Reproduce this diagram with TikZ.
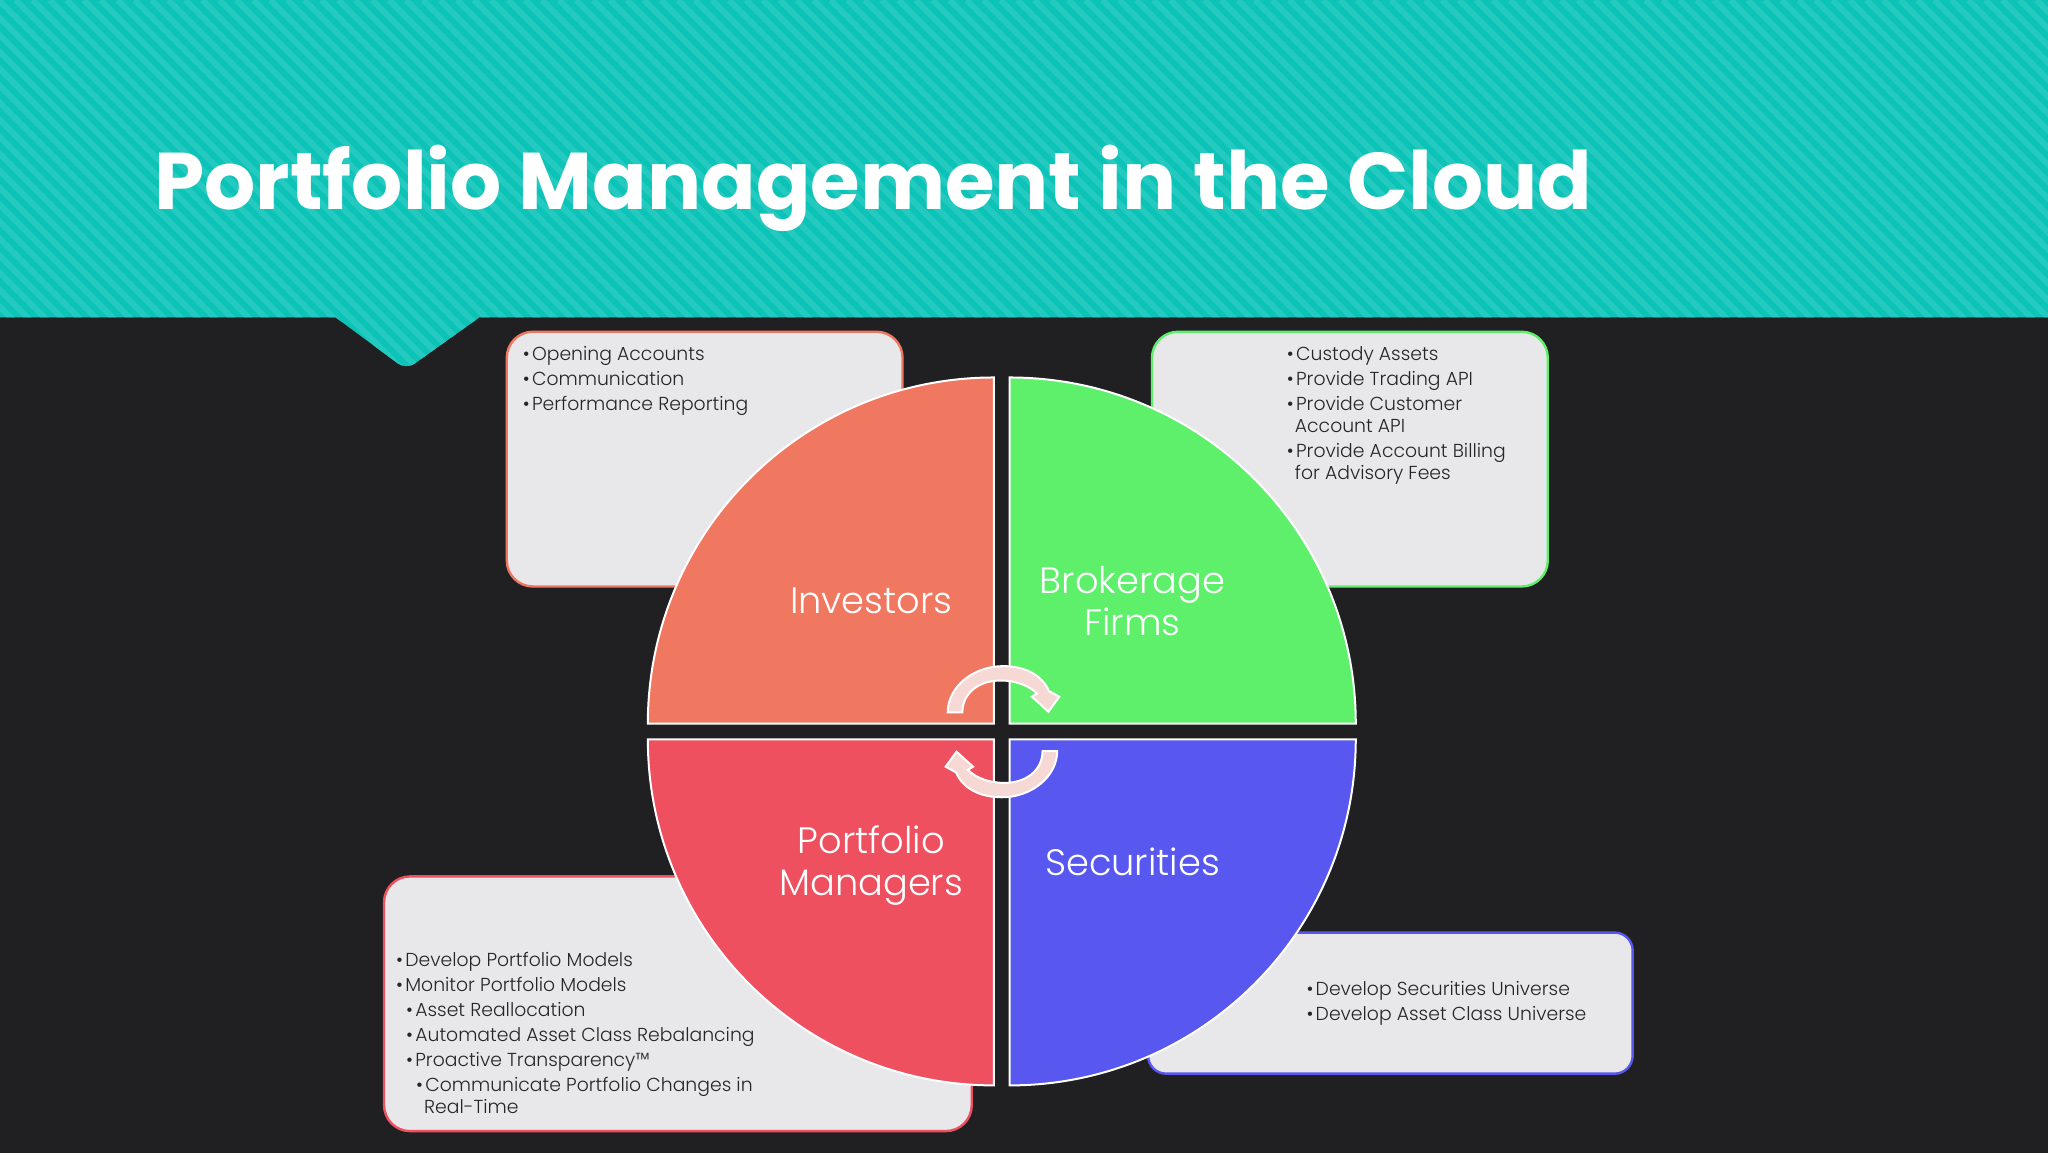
\documentclass[tikz,border=0pt]{standalone}
\usepackage{fontspec}
\setmainfont{Poppins}
\newfontfamily\lightfont[UprightFont=* Light]{Poppins}
\usetikzlibrary{calc}
\definecolor{slate}{HTML}{201F21}
\definecolor{tealdark}{HTML}{0CC3B7}
\definecolor{teallight}{HTML}{24C9BF}
\definecolor{boxgrey}{HTML}{E8E8EA}
\definecolor{salmon}{HTML}{F07860}
\definecolor{leaf}{HTML}{5EF06A}
\definecolor{rosered}{HTML}{EE5060}
\definecolor{violetblue}{HTML}{5858F0}
\definecolor{swirlpink}{HTML}{F6D8D4}
\newcommand{\itm}{\makebox[4.6pt][l]{\textbullet}}
\newcommand{\swirl}[1]{%
  \draw[swirlarrow,rotate around={#1:(767.5,560.2)}] (725.6,545.4)
    .. controls (725.6,526) and (745,510) .. (768,510)
    .. controls (785,510) and (798,517) .. (803,529)
    -- (811,533.4) -- (802.7,544.9) -- (790,533.4) -- (794,531)
    .. controls (788,525) and (778,521) .. (766,521)
    .. controls (750,521) and (737,530) .. (736.8,545.4) -- cycle;}

\begin{document}
\begin{tikzpicture}[x=0.65306pt,y=-0.65306pt]
  \tikzstyle{infobox}=[rounded corners=13pt,fill=boxgrey,line width=1.2pt]
  \tikzstyle{sector}=[draw=white,line width=1pt]
  \tikzstyle{swirlarrow}=[draw=white,line width=1pt,fill=swirlpink]
  \tikzstyle{bullets}=[anchor=north west,inner sep=0pt,align=left,text=black!85,
                       font=\lightfont\fontsize{9.4pt}{10.9pt}\selectfont]
  \tikzstyle{quarter}=[text=white,align=center,
                       font=\lightfont\fontsize{18.4pt}{21pt}\selectfont]

  \useasboundingbox (0,0) rectangle (1568,882);
  \fill[slate] (-4,-4) rectangle (1572,886);

  % banner with its notch
  \begin{scope}
    \clip (-4,-4) -- (1572,-4) -- (1572,243) -- (367,243)
      [rounded corners=5pt] -- (311,283) [sharp corners] -- (257,243) -- (-4,243) -- cycle;
    \fill[tealdark] (-4,-4) rectangle (1572,290);
    \foreach \s in {-300,-287,...,1568}
      \draw[teallight,line width=3pt] (\s,0) -- ++(300,300);
  \end{scope}

  \node[text=white,anchor=west,inner sep=0pt,font=\fontsize{40.2pt}{48pt}\selectfont\bfseries]
    (title) at (118,144) {Portfolio Management in the Cloud};

  % boxes first, the quarters lie on top of them
  \draw[infobox,draw=salmon] (388,254) rectangle (691,449);
  \draw[infobox,draw=leaf] (882,254) rectangle (1185,449);
  \draw[infobox,draw=rosered] (294,671) rectangle (744,866);
  \draw[infobox,rounded corners=9pt,draw=violetblue] (879,714) rectangle (1250,822);

  \draw[sector,fill=salmon] (761,554) -- (496,554) arc[start angle=180,end angle=270,radius=265] -- cycle;
  \draw[sector,fill=leaf] (773,554) -- (773,289) arc[start angle=270,end angle=360,radius=265] -- cycle;
  \draw[sector,fill=rosered] (761,566) -- (496,566) arc[start angle=180,end angle=90,radius=265] -- cycle;
  \draw[sector,fill=violetblue] (773,566) -- (773,831) arc[start angle=90,end angle=0,radius=265] -- cycle;

  \swirl{0}
  \swirl{180}

  \node[quarter] (investors) at (667,460) {Investors};
  \node[quarter] (brokerage) at (867,460) {Brokerage\\Firms};
  \node[quarter] (managers) at (667,663) {Portfolio\\Managers};
  \node[quarter] (securities) at (867,660) {Securities};

  \node[bullets] (investorlist) at (400,265) {\itm Opening Accounts\\[1.6pt]
    \itm Communication\\[1.6pt]
    \itm Performance Reporting};
  \node[bullets] (brokerlist) at (985,265) {\itm Custody Assets\\[1.6pt]
    \itm Provide Trading API\\[1.6pt]
    \itm Provide Customer\\
    \hspace*{4pt}Account API\\[1.6pt]
    \itm Provide Account Billing\\
    \hspace*{4pt}for Advisory Fees};
  \node[bullets] (managerlist) at (303,729) {\itm Develop Portfolio Models\\[1.6pt]
    \itm Monitor Portfolio Models\\[1.6pt]
    \hspace*{5pt}\itm Asset Reallocation\\[1.6pt]
    \hspace*{5pt}\itm Automated Asset Class Rebalancing\\[1.6pt]
    \hspace*{5pt}\itm Proactive Transparency™\\[1.6pt]
    \hspace*{10pt}\itm Communicate Portfolio Changes in\\
    \hspace*{14pt}Real-Time};
  \node[bullets] (securitylist) at (1000,751) {\itm Develop Securities Universe\\[1.6pt]
    \itm Develop Asset Class Universe};
\end{tikzpicture}
\end{document}
